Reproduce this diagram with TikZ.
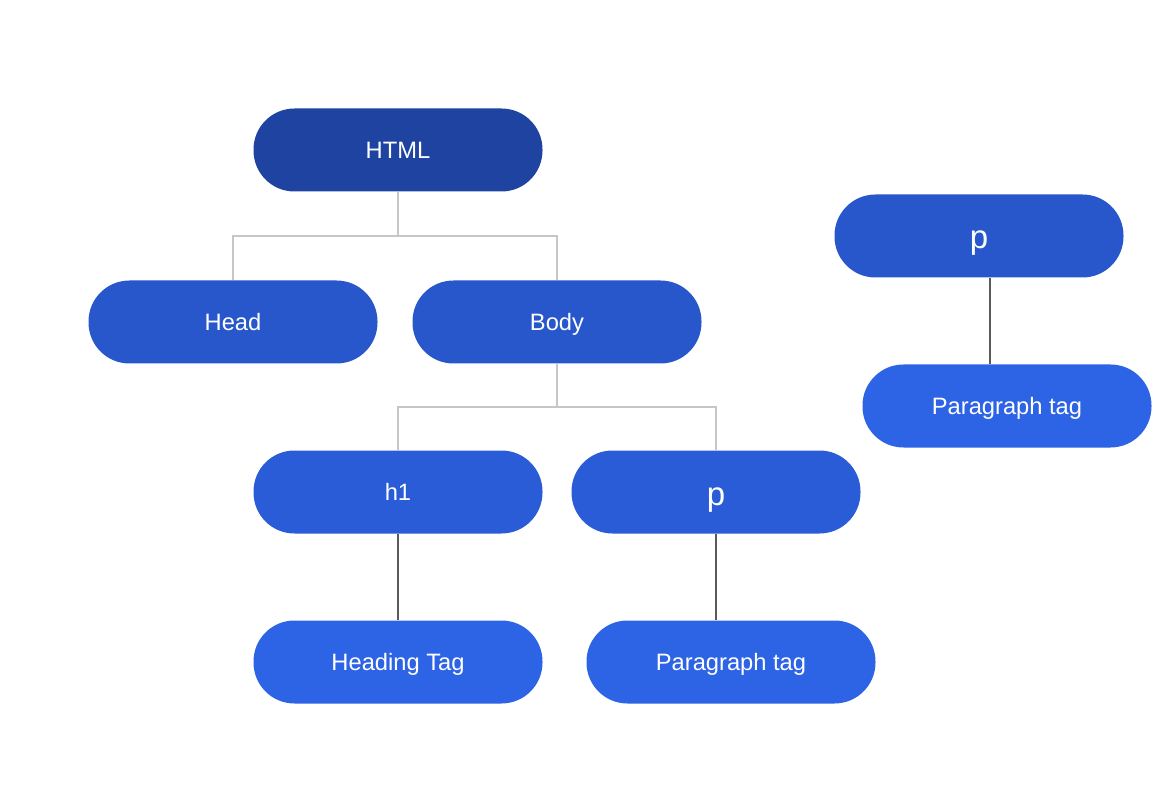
\documentclass[tikz,border=0pt]{standalone}
\usepackage{fontspec}
\setmainfont{Liberation Sans}
\usetikzlibrary{calc}
\definecolor{cTop}{HTML}{1E43A0}
\definecolor{cMid}{HTML}{2757CB}
\definecolor{cLow}{HTML}{2A5CD7}
\definecolor{cLeaf}{HTML}{2D63E5}
\definecolor{cGrayLine}{HTML}{C6C6C6}
\definecolor{cDarkLine}{HTML}{5A5A5A}
\tikzset{
  pill/.style={rectangle, rounded corners=41pt, minimum width=289pt, minimum height=83pt,
    inner sep=0pt, text=white, text height=21pt, text depth=4pt,
    font=\fontsize{23.7}{27}\selectfont},
  bigp/.style={font=\fontsize{33}{38}\selectfont, text height=26pt, text depth=-1pt},
  treeline/.style={draw=cGrayLine, line width=2pt},
  leafline/.style={draw=cDarkLine, line width=1.6pt},
}
\begin{document}
\begin{tikzpicture}[x=1pt,y=-1pt]
\useasboundingbox[fill=white] (0,0) rectangle (1176,794);
\node[pill, fill=cTop] (html) at (398,150) {HTML};
\node[pill, fill=cMid] (head) at (233,322) {Head};
\node[pill, fill=cMid] (body) at (557,322) {Body};
\node[pill, fill=cLow] (h1) at (398,492) {h1};
\node[pill, fill=cLow, bigp] (pm) at (716,492) {p};
\node[pill, fill=cLeaf] (ht) at (398,662) {Heading Tag};
\node[pill, fill=cLeaf] (ptm) at (731,662) {Paragraph tag};
\node[pill, fill=cMid, bigp] (pr) at (979,236) {p};
\node[pill, fill=cLeaf] (ptr) at (1007,406) {Paragraph tag};

\draw[treeline] (html.south) -- ++(0,-44.5pt) -| (head.north);
\draw[treeline] (html.south) -- ++(0,-44.5pt) -| (body.north);
\draw[treeline] (body.south) -- ++(0,-43.5pt) -| (h1.north);
\draw[treeline] (body.south) -- ++(0,-43.5pt) -| (pm.north);

\draw[leafline] (h1.south) -- (ht.north);
\draw[leafline] (pm.south) -- (pm.south |- ptm.north);
\coordinate (prj) at ($(pr.south)+(11,0)$);
\draw[leafline] (prj) -- (prj |- ptr.north);
\end{tikzpicture}
\end{document}
